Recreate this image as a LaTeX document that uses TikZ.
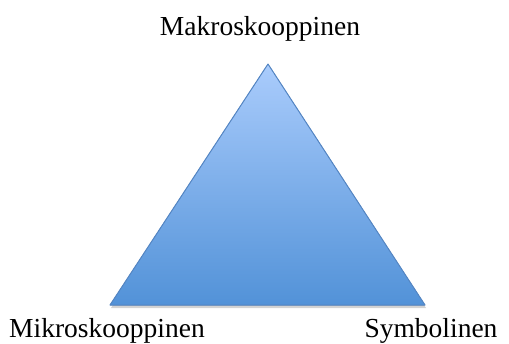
\documentclass[tikz,border=0pt]{standalone}
\usepackage{fontspec}
\setmainfont{Liberation Serif}
\usetikzlibrary{shadows}
\definecolor{tritop}{RGB}{170,204,252}
\definecolor{tribottom}{RGB}{82,146,216}
\definecolor{triborder}{RGB}{84,134,196}
\tikzset{
  levellabel/.style = {font=\fontsize{27.5}{32}\selectfont, inner sep=0pt, anchor=base},
  levelshape/.style = {draw=triborder, line width=1pt, top color=tritop,
                       bottom color=tribottom, line join=round,
                       drop shadow={opacity=0.35, shadow xshift=1pt, shadow yshift=-3pt}}
}
\begin{document}
\begin{tikzpicture}[x=1pt,y=-1pt]
\useasboundingbox (0,0) rectangle (509,343);
\coordinate (apex) at (268,64);
\coordinate (left) at (110,305);
\coordinate (right) at (425,305);
\filldraw[levelshape] (apex) -- (left) -- (right) -- cycle;

\node[levellabel] (makro) at (260,35) {Makroskooppinen};
\node[levellabel] (mikro) at (107,337) {Mikroskooppinen};
\node[levellabel] (symb) at (431,337) {Symbolinen};
\end{tikzpicture}
\end{document}
